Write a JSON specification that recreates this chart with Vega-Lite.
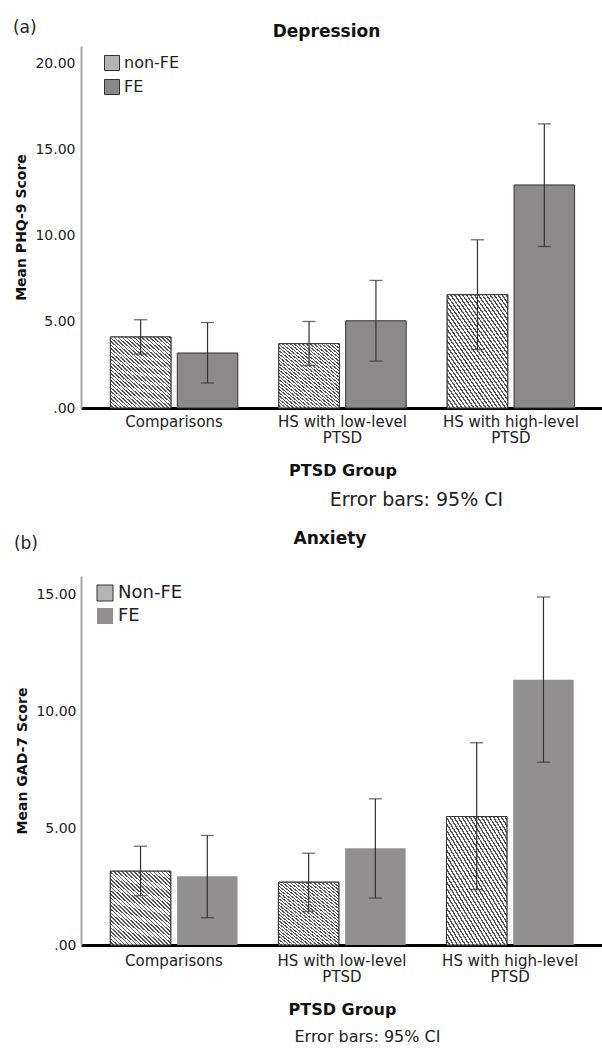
{
"$schema": "https://vega.github.io/schema/vega-lite/v6.json",
"background": "white",
"padding": {"left": 12, "top": 19, "right": 0, "bottom": 0},
"config": {"font": "DejaVu Sans", "view": {"stroke": null}, "legend": {"padding": 0}},
"resolve": {"scale": {"fill": "independent", "xOffset": "independent"}, "legend": {"fill": "independent"}},
"spacing": 20,
"datasets": {
 "dep": [
  {"group": "Comparisons", "fe": "non-FE", "mean": 4.12, "lo": 3.13, "hi": 5.12},
  {"group": "Comparisons", "fe": "FE", "mean": 3.19, "lo": 1.45, "hi": 4.96},
  {"group": "HS with low-level PTSD", "fe": "non-FE", "mean": 3.73, "lo": 2.47, "hi": 5.02},
  {"group": "HS with low-level PTSD", "fe": "FE", "mean": 5.06, "lo": 2.72, "hi": 7.40},
  {"group": "HS with high-level PTSD", "fe": "non-FE", "mean": 6.57, "lo": 3.38, "hi": 9.76},
  {"group": "HS with high-level PTSD", "fe": "FE", "mean": 12.94, "lo": 9.37, "hi": 16.48}
 ],
 "anx": [
  {"group": "Comparisons", "fe": "Non-FE", "mean": 3.16, "lo": 2.11, "hi": 4.23},
  {"group": "Comparisons", "fe": "FE", "mean": 2.94, "lo": 1.17, "hi": 4.69},
  {"group": "HS with low-level PTSD", "fe": "Non-FE", "mean": 2.69, "lo": 1.44, "hi": 3.93},
  {"group": "HS with low-level PTSD", "fe": "FE", "mean": 4.14, "lo": 2.01, "hi": 6.26},
  {"group": "HS with high-level PTSD", "fe": "Non-FE", "mean": 5.50, "lo": 2.37, "hi": 8.66},
  {"group": "HS with high-level PTSD", "fe": "FE", "mean": 11.36, "lo": 7.83, "hi": 14.90}
 ]
},
"vconcat": [
 {
  "title": {"text": "(a)", "anchor": "start", "frame": "bounds", "fontSize": 17, "fontWeight": "normal", "color": "#222", "dx": -2, "dy": 14, "offset": 0},
  "vconcat": [
   {
    "title": {"text": "Error bars: 95% CI", "orient": "bottom", "anchor": "middle", "fontSize": 19, "fontWeight": "normal", "color": "#222", "dx": 107, "offset": 13},
    "vconcat": [
     {
      "width": 523, "height": 362,
      "data": {"name": "dep"},
      "title": {"text": "Depression", "fontSize": 17, "fontWeight": "bold", "color": "#111", "anchor": "middle", "dx": -16, "offset": 5},
      "encoding": {
       "x": {"field": "group", "type": "nominal", "sort": ["Comparisons", "HS with low-level PTSD", "HS with high-level PTSD"],
        "scale": {"paddingInner": 0.2435, "paddingOuter": 0.1746},
        "axis": {"title": "PTSD Group", "labelAngle": 0, "ticks": false, "domainColor": "#000", "domainWidth": 3, "labelFontSize": 15, "labelColor": "#222", "labelPadding": 6, "labelLineHeight": 16,
         "labelExpr": "datum.value === 'Comparisons' ? datum.value : [replace(datum.value, ' PTSD', ''), 'PTSD']",
         "titleFontSize": 16, "titleFontWeight": "bold", "titleColor": "#111", "titlePadding": 17}},
       "xOffset": {"field": "fe", "type": "nominal", "sort": ["non-FE", "FE"], "scale": {"paddingInner": 0.095, "paddingOuter": 0}},
       "y": {"field": "mean", "type": "quantitative", "title": "Mean PHQ-9 Score", "scale": {"domain": [0, 21], "nice": false},
          "axis": {"values": [0, 5, 10, 15, 20], "labelExpr": "datum.value === 0 ? '.00' : format(datum.value, '.2f')", "ticks": false, "grid": false, "domainColor": "#a8a8a8", "domainWidth": 2, "labelFontSize": 14, "labelColor": "#222", "labelPadding": 6, "titleFontSize": 14, "titleFontWeight": "bold", "titleColor": "#111", "titlePadding": 6}}
      },
      "layer": [
       {
        "mark": {"type": "bar", "stroke": "#333", "strokeWidth": 1},
        "encoding": {
         "fill": {"field": "fe", "type": "nominal",
          "scale": {"domain": ["non-FE", "FE"], "range": ["#b4b4b4", "#8b8989"]},
          "legend": {"title": null, "orient": "none", "legendX": 23, "legendY": 9, "symbolType": "square", "symbolSize": 225, "symbolStrokeColor": "#333", "symbolStrokeWidth": 1, "labelFontSize": 16, "labelColor": "#222", "labelOffset": 4, "rowPadding": 4,
           "encode": {"symbols": {"update": {"stroke": {"value": "#333"}, "fill": {"signal": "datum.value === 'non-FE' ? {gradient:'linear',x1:0,y1:1,x2:1,y2:0,stops:[{offset:0,color:'#fff'},{offset:0.075,color:'#fff'},{offset:0.075,color:'#555'},{offset:0.125,color:'#555'},{offset:0.125,color:'#fff'},{offset:0.2,color:'#fff'},{offset:0.2,color:'#555'},{offset:0.25,color:'#555'},{offset:0.25,color:'#fff'},{offset:0.325,color:'#fff'},{offset:0.325,color:'#555'},{offset:0.375,color:'#555'},{offset:0.375,color:'#fff'},{offset:0.45,color:'#fff'},{offset:0.45,color:'#555'},{offset:0.5,color:'#555'},{offset:0.5,color:'#fff'},{offset:0.575,color:'#fff'},{offset:0.575,color:'#555'},{offset:0.625,color:'#555'},{offset:0.625,color:'#fff'},{offset:0.7,color:'#fff'},{offset:0.7,color:'#555'},{offset:0.75,color:'#555'},{offset:0.75,color:'#fff'},{offset:0.825,color:'#fff'},{offset:0.825,color:'#555'},{offset:0.875,color:'#555'},{offset:0.875,color:'#fff'},{offset:0.95,color:'#fff'},{offset:0.95,color:'#555'},{offset:1,color:'#555'}]} : '#8b8989'"}}}}}
         }
        }
       },
       {
        "transform": [{"filter": "datum.fe === 'non-FE'"}],
        "mark": {"type": "bar", "stroke": "#333", "strokeWidth": 1,
         "fill": {"gradient": "linear", "x1": 0, "y1": 1, "x2": 0.97, "y2": -0.26, "stops": [
{"offset":0,"color":"#fff"},{"offset":0.015,"color":"#fff"},{"offset":0.015,"color":"#555"},{"offset":0.025,"color":"#555"},
{"offset":0.025,"color":"#fff"},{"offset":0.04,"color":"#fff"},{"offset":0.04,"color":"#555"},{"offset":0.05,"color":"#555"},
{"offset":0.05,"color":"#fff"},{"offset":0.065,"color":"#fff"},{"offset":0.065,"color":"#555"},{"offset":0.075,"color":"#555"},
{"offset":0.075,"color":"#fff"},{"offset":0.09,"color":"#fff"},{"offset":0.09,"color":"#555"},{"offset":0.1,"color":"#555"},
{"offset":0.1,"color":"#fff"},{"offset":0.115,"color":"#fff"},{"offset":0.115,"color":"#555"},{"offset":0.125,"color":"#555"},
{"offset":0.125,"color":"#fff"},{"offset":0.14,"color":"#fff"},{"offset":0.14,"color":"#555"},{"offset":0.15,"color":"#555"},
{"offset":0.15,"color":"#fff"},{"offset":0.165,"color":"#fff"},{"offset":0.165,"color":"#555"},{"offset":0.175,"color":"#555"},
{"offset":0.175,"color":"#fff"},{"offset":0.19,"color":"#fff"},{"offset":0.19,"color":"#555"},{"offset":0.2,"color":"#555"},
{"offset":0.2,"color":"#fff"},{"offset":0.215,"color":"#fff"},{"offset":0.215,"color":"#555"},{"offset":0.225,"color":"#555"},
{"offset":0.225,"color":"#fff"},{"offset":0.24,"color":"#fff"},{"offset":0.24,"color":"#555"},{"offset":0.25,"color":"#555"},
{"offset":0.25,"color":"#fff"},{"offset":0.265,"color":"#fff"},{"offset":0.265,"color":"#555"},{"offset":0.275,"color":"#555"},
{"offset":0.275,"color":"#fff"},{"offset":0.29,"color":"#fff"},{"offset":0.29,"color":"#555"},{"offset":0.3,"color":"#555"},
{"offset":0.3,"color":"#fff"},{"offset":0.315,"color":"#fff"},{"offset":0.315,"color":"#555"},{"offset":0.325,"color":"#555"},
{"offset":0.325,"color":"#fff"},{"offset":0.34,"color":"#fff"},{"offset":0.34,"color":"#555"},{"offset":0.35,"color":"#555"},
{"offset":0.35,"color":"#fff"},{"offset":0.365,"color":"#fff"},{"offset":0.365,"color":"#555"},{"offset":0.375,"color":"#555"},
{"offset":0.375,"color":"#fff"},{"offset":0.39,"color":"#fff"},{"offset":0.39,"color":"#555"},{"offset":0.4,"color":"#555"},
{"offset":0.4,"color":"#fff"},{"offset":0.415,"color":"#fff"},{"offset":0.415,"color":"#555"},{"offset":0.425,"color":"#555"},
{"offset":0.425,"color":"#fff"},{"offset":0.44,"color":"#fff"},{"offset":0.44,"color":"#555"},{"offset":0.45,"color":"#555"},
{"offset":0.45,"color":"#fff"},{"offset":0.465,"color":"#fff"},{"offset":0.465,"color":"#555"},{"offset":0.475,"color":"#555"},
{"offset":0.475,"color":"#fff"},{"offset":0.49,"color":"#fff"},{"offset":0.49,"color":"#555"},{"offset":0.5,"color":"#555"},
{"offset":0.5,"color":"#fff"},{"offset":0.515,"color":"#fff"},{"offset":0.515,"color":"#555"},{"offset":0.525,"color":"#555"},
{"offset":0.525,"color":"#fff"},{"offset":0.54,"color":"#fff"},{"offset":0.54,"color":"#555"},{"offset":0.55,"color":"#555"},
{"offset":0.55,"color":"#fff"},{"offset":0.565,"color":"#fff"},{"offset":0.565,"color":"#555"},{"offset":0.575,"color":"#555"},
{"offset":0.575,"color":"#fff"},{"offset":0.59,"color":"#fff"},{"offset":0.59,"color":"#555"},{"offset":0.6,"color":"#555"},
{"offset":0.6,"color":"#fff"},{"offset":0.615,"color":"#fff"},{"offset":0.615,"color":"#555"},{"offset":0.625,"color":"#555"},
{"offset":0.625,"color":"#fff"},{"offset":0.64,"color":"#fff"},{"offset":0.64,"color":"#555"},{"offset":0.65,"color":"#555"},
{"offset":0.65,"color":"#fff"},{"offset":0.665,"color":"#fff"},{"offset":0.665,"color":"#555"},{"offset":0.675,"color":"#555"},
{"offset":0.675,"color":"#fff"},{"offset":0.69,"color":"#fff"},{"offset":0.69,"color":"#555"},{"offset":0.7,"color":"#555"},
{"offset":0.7,"color":"#fff"},{"offset":0.715,"color":"#fff"},{"offset":0.715,"color":"#555"},{"offset":0.725,"color":"#555"},
{"offset":0.725,"color":"#fff"},{"offset":0.74,"color":"#fff"},{"offset":0.74,"color":"#555"},{"offset":0.75,"color":"#555"},
{"offset":0.75,"color":"#fff"},{"offset":0.765,"color":"#fff"},{"offset":0.765,"color":"#555"},{"offset":0.775,"color":"#555"},
{"offset":0.775,"color":"#fff"},{"offset":0.79,"color":"#fff"},{"offset":0.79,"color":"#555"},{"offset":0.8,"color":"#555"},
{"offset":0.8,"color":"#fff"},{"offset":0.815,"color":"#fff"},{"offset":0.815,"color":"#555"},{"offset":0.825,"color":"#555"},
{"offset":0.825,"color":"#fff"},{"offset":0.84,"color":"#fff"},{"offset":0.84,"color":"#555"},{"offset":0.85,"color":"#555"},
{"offset":0.85,"color":"#fff"},{"offset":0.865,"color":"#fff"},{"offset":0.865,"color":"#555"},{"offset":0.875,"color":"#555"},
{"offset":0.875,"color":"#fff"},{"offset":0.89,"color":"#fff"},{"offset":0.89,"color":"#555"},{"offset":0.9,"color":"#555"},
{"offset":0.9,"color":"#fff"},{"offset":1,"color":"#fff"}
         ]}},
        "encoding": {}
       },
       {"mark": {"type": "rule", "color": "#333", "strokeWidth": 1.2}, "encoding": {"y": {"field": "lo", "type": "quantitative", "title": "Mean PHQ-9 Score"}, "y2": {"field": "hi"}}},
       {"mark": {"type": "tick", "color": "#333", "size": 13, "thickness": 1.3}, "encoding": {"y": {"field": "lo", "type": "quantitative", "title": "Mean PHQ-9 Score"}}},
       {"mark": {"type": "tick", "color": "#333", "size": 13, "thickness": 1.3}, "encoding": {"y": {"field": "hi", "type": "quantitative", "title": "Mean PHQ-9 Score"}}}
      ]
     }
    ]
   }
  ]
 },
 {
  "title": {"text": "(b)", "anchor": "start", "frame": "bounds", "fontSize": 17, "fontWeight": "normal", "color": "#222", "dx": -2, "dy": 23, "offset": 0},
  "vconcat": [
   {
    "title": {"text": "Error bars: 95% CI", "orient": "bottom", "anchor": "middle", "fontSize": 16, "fontWeight": "normal", "color": "#222", "dx": 58, "offset": 12},
    "vconcat": [
     {
      "width": 522, "height": 369,
      "data": {"name": "anx"},
      "title": {"text": "Anxiety", "fontSize": 17, "fontWeight": "bold", "color": "#111", "anchor": "middle", "dx": -12, "offset": 28},
      "encoding": {
       "x": {"field": "group", "type": "nominal", "sort": ["Comparisons", "HS with low-level PTSD", "HS with high-level PTSD"],
        "scale": {"paddingInner": 0.2435, "paddingOuter": 0.1746},
        "axis": {"title": "PTSD Group", "labelAngle": 0, "ticks": false, "domainColor": "#000", "domainWidth": 3, "labelFontSize": 15, "labelColor": "#222", "labelPadding": 8, "labelLineHeight": 16,
         "labelExpr": "datum.value === 'Comparisons' ? datum.value : [replace(datum.value, ' PTSD', ''), 'PTSD']",
         "titleFontSize": 16, "titleFontWeight": "bold", "titleColor": "#111", "titlePadding": 17}},
       "xOffset": {"field": "fe", "type": "nominal", "sort": ["Non-FE", "FE"], "scale": {"paddingInner": 0.095, "paddingOuter": 0}},
       "y": {"field": "mean", "type": "quantitative", "title": "Mean GAD-7 Score", "scale": {"domain": [0, 15.8], "nice": false},
          "axis": {"values": [0, 5, 10, 15], "labelExpr": "datum.value === 0 ? '.00' : format(datum.value, '.2f')", "ticks": false, "grid": false, "domainColor": "#a8a8a8", "domainWidth": 2, "labelFontSize": 14, "labelColor": "#222", "labelPadding": 5, "titleFontSize": 14, "titleFontWeight": "bold", "titleColor": "#111", "titlePadding": 6}}
      },
      "layer": [
       {
        "mark": {"type": "bar", "strokeWidth": 1},
        "encoding": {
         "stroke": {"condition": {"test": "datum.fe === 'FE'", "value": "transparent"}, "value": "#333"},
         "fill": {"field": "fe", "type": "nominal",
          "scale": {"domain": ["Non-FE", "FE"], "range": ["#b4b4b4", "#918f8f"]},
          "legend": {"title": null, "orient": "none", "legendX": 15, "legendY": 8, "symbolType": "square", "symbolSize": 256, "symbolStrokeColor": "#333", "symbolStrokeWidth": 1, "labelFontSize": 18, "labelColor": "#222", "labelOffset": 4, "rowPadding": 3,
           "encode": {"symbols": {"update": {"stroke": {"signal": "datum.value === 'FE' ? 'transparent' : '#333'"}, "fill": {"signal": "datum.value === 'Non-FE' ? {gradient:'linear',x1:0,y1:1,x2:1,y2:0,stops:[{offset:0,color:'#fff'},{offset:0.075,color:'#fff'},{offset:0.075,color:'#555'},{offset:0.125,color:'#555'},{offset:0.125,color:'#fff'},{offset:0.2,color:'#fff'},{offset:0.2,color:'#555'},{offset:0.25,color:'#555'},{offset:0.25,color:'#fff'},{offset:0.325,color:'#fff'},{offset:0.325,color:'#555'},{offset:0.375,color:'#555'},{offset:0.375,color:'#fff'},{offset:0.45,color:'#fff'},{offset:0.45,color:'#555'},{offset:0.5,color:'#555'},{offset:0.5,color:'#fff'},{offset:0.575,color:'#fff'},{offset:0.575,color:'#555'},{offset:0.625,color:'#555'},{offset:0.625,color:'#fff'},{offset:0.7,color:'#fff'},{offset:0.7,color:'#555'},{offset:0.75,color:'#555'},{offset:0.75,color:'#fff'},{offset:0.825,color:'#fff'},{offset:0.825,color:'#555'},{offset:0.875,color:'#555'},{offset:0.875,color:'#fff'},{offset:0.95,color:'#fff'},{offset:0.95,color:'#555'},{offset:1,color:'#555'}]} : '#918f8f'"}}}}}
         }
        }
       },
       {
        "transform": [{"filter": "datum.fe === 'Non-FE'"}],
        "mark": {"type": "bar", "stroke": "#333", "strokeWidth": 1,
         "fill": {"gradient": "linear", "x1": 0, "y1": 1, "x2": 0.97, "y2": -0.26, "stops": [
{"offset":0,"color":"#fff"},{"offset":0.015,"color":"#fff"},{"offset":0.015,"color":"#555"},{"offset":0.025,"color":"#555"},
{"offset":0.025,"color":"#fff"},{"offset":0.04,"color":"#fff"},{"offset":0.04,"color":"#555"},{"offset":0.05,"color":"#555"},
{"offset":0.05,"color":"#fff"},{"offset":0.065,"color":"#fff"},{"offset":0.065,"color":"#555"},{"offset":0.075,"color":"#555"},
{"offset":0.075,"color":"#fff"},{"offset":0.09,"color":"#fff"},{"offset":0.09,"color":"#555"},{"offset":0.1,"color":"#555"},
{"offset":0.1,"color":"#fff"},{"offset":0.115,"color":"#fff"},{"offset":0.115,"color":"#555"},{"offset":0.125,"color":"#555"},
{"offset":0.125,"color":"#fff"},{"offset":0.14,"color":"#fff"},{"offset":0.14,"color":"#555"},{"offset":0.15,"color":"#555"},
{"offset":0.15,"color":"#fff"},{"offset":0.165,"color":"#fff"},{"offset":0.165,"color":"#555"},{"offset":0.175,"color":"#555"},
{"offset":0.175,"color":"#fff"},{"offset":0.19,"color":"#fff"},{"offset":0.19,"color":"#555"},{"offset":0.2,"color":"#555"},
{"offset":0.2,"color":"#fff"},{"offset":0.215,"color":"#fff"},{"offset":0.215,"color":"#555"},{"offset":0.225,"color":"#555"},
{"offset":0.225,"color":"#fff"},{"offset":0.24,"color":"#fff"},{"offset":0.24,"color":"#555"},{"offset":0.25,"color":"#555"},
{"offset":0.25,"color":"#fff"},{"offset":0.265,"color":"#fff"},{"offset":0.265,"color":"#555"},{"offset":0.275,"color":"#555"},
{"offset":0.275,"color":"#fff"},{"offset":0.29,"color":"#fff"},{"offset":0.29,"color":"#555"},{"offset":0.3,"color":"#555"},
{"offset":0.3,"color":"#fff"},{"offset":0.315,"color":"#fff"},{"offset":0.315,"color":"#555"},{"offset":0.325,"color":"#555"},
{"offset":0.325,"color":"#fff"},{"offset":0.34,"color":"#fff"},{"offset":0.34,"color":"#555"},{"offset":0.35,"color":"#555"},
{"offset":0.35,"color":"#fff"},{"offset":0.365,"color":"#fff"},{"offset":0.365,"color":"#555"},{"offset":0.375,"color":"#555"},
{"offset":0.375,"color":"#fff"},{"offset":0.39,"color":"#fff"},{"offset":0.39,"color":"#555"},{"offset":0.4,"color":"#555"},
{"offset":0.4,"color":"#fff"},{"offset":0.415,"color":"#fff"},{"offset":0.415,"color":"#555"},{"offset":0.425,"color":"#555"},
{"offset":0.425,"color":"#fff"},{"offset":0.44,"color":"#fff"},{"offset":0.44,"color":"#555"},{"offset":0.45,"color":"#555"},
{"offset":0.45,"color":"#fff"},{"offset":0.465,"color":"#fff"},{"offset":0.465,"color":"#555"},{"offset":0.475,"color":"#555"},
{"offset":0.475,"color":"#fff"},{"offset":0.49,"color":"#fff"},{"offset":0.49,"color":"#555"},{"offset":0.5,"color":"#555"},
{"offset":0.5,"color":"#fff"},{"offset":0.515,"color":"#fff"},{"offset":0.515,"color":"#555"},{"offset":0.525,"color":"#555"},
{"offset":0.525,"color":"#fff"},{"offset":0.54,"color":"#fff"},{"offset":0.54,"color":"#555"},{"offset":0.55,"color":"#555"},
{"offset":0.55,"color":"#fff"},{"offset":0.565,"color":"#fff"},{"offset":0.565,"color":"#555"},{"offset":0.575,"color":"#555"},
{"offset":0.575,"color":"#fff"},{"offset":0.59,"color":"#fff"},{"offset":0.59,"color":"#555"},{"offset":0.6,"color":"#555"},
{"offset":0.6,"color":"#fff"},{"offset":0.615,"color":"#fff"},{"offset":0.615,"color":"#555"},{"offset":0.625,"color":"#555"},
{"offset":0.625,"color":"#fff"},{"offset":0.64,"color":"#fff"},{"offset":0.64,"color":"#555"},{"offset":0.65,"color":"#555"},
{"offset":0.65,"color":"#fff"},{"offset":0.665,"color":"#fff"},{"offset":0.665,"color":"#555"},{"offset":0.675,"color":"#555"},
{"offset":0.675,"color":"#fff"},{"offset":0.69,"color":"#fff"},{"offset":0.69,"color":"#555"},{"offset":0.7,"color":"#555"},
{"offset":0.7,"color":"#fff"},{"offset":0.715,"color":"#fff"},{"offset":0.715,"color":"#555"},{"offset":0.725,"color":"#555"},
{"offset":0.725,"color":"#fff"},{"offset":0.74,"color":"#fff"},{"offset":0.74,"color":"#555"},{"offset":0.75,"color":"#555"},
{"offset":0.75,"color":"#fff"},{"offset":0.765,"color":"#fff"},{"offset":0.765,"color":"#555"},{"offset":0.775,"color":"#555"},
{"offset":0.775,"color":"#fff"},{"offset":0.79,"color":"#fff"},{"offset":0.79,"color":"#555"},{"offset":0.8,"color":"#555"},
{"offset":0.8,"color":"#fff"},{"offset":0.815,"color":"#fff"},{"offset":0.815,"color":"#555"},{"offset":0.825,"color":"#555"},
{"offset":0.825,"color":"#fff"},{"offset":0.84,"color":"#fff"},{"offset":0.84,"color":"#555"},{"offset":0.85,"color":"#555"},
{"offset":0.85,"color":"#fff"},{"offset":0.865,"color":"#fff"},{"offset":0.865,"color":"#555"},{"offset":0.875,"color":"#555"},
{"offset":0.875,"color":"#fff"},{"offset":0.89,"color":"#fff"},{"offset":0.89,"color":"#555"},{"offset":0.9,"color":"#555"},
{"offset":0.9,"color":"#fff"},{"offset":1,"color":"#fff"}
         ]}},
        "encoding": {}
       },
       {"mark": {"type": "rule", "color": "#333", "strokeWidth": 1.2}, "encoding": {"y": {"field": "lo", "type": "quantitative", "title": "Mean GAD-7 Score"}, "y2": {"field": "hi"}}},
       {"mark": {"type": "tick", "color": "#333", "size": 13, "thickness": 1.3}, "encoding": {"y": {"field": "lo", "type": "quantitative", "title": "Mean GAD-7 Score"}}},
       {"mark": {"type": "tick", "color": "#333", "size": 13, "thickness": 1.3}, "encoding": {"y": {"field": "hi", "type": "quantitative", "title": "Mean GAD-7 Score"}}}
      ]
     }
    ]
   }
  ]
 }
]
}
